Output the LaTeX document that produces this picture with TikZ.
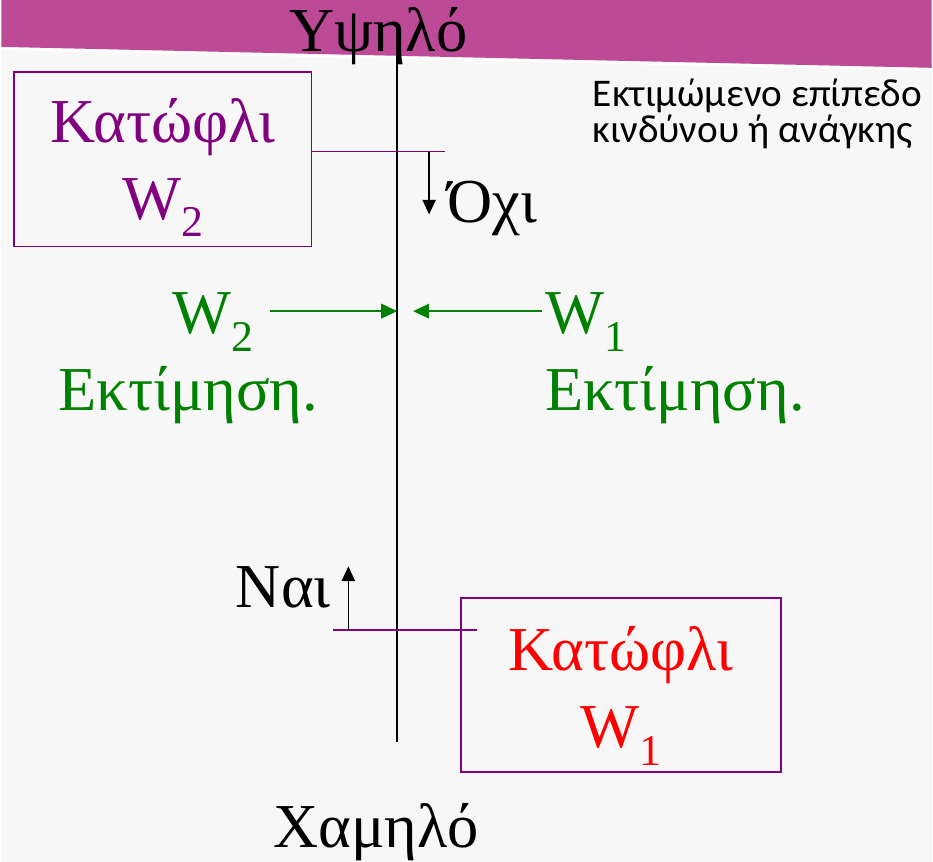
\documentclass[tikz,border=0pt]{standalone}
\usepackage{fontspec}
\setmainfont{Liberation Serif}
\newfontfamily\notefont{Carlito}
\usetikzlibrary{arrows.meta,positioning}
\definecolor{bggray}{RGB}{247,247,247}
\definecolor{bandpink}{RGB}{188,74,150}
\definecolor{threshpurple}{RGB}{128,0,128}
\definecolor{estgreen}{RGB}{0,128,0}
\definecolor{threshred}{RGB}{255,0,0}
\newcommand{\Wsub}[1]{W\raisebox{-13pt}{\fontsize{33}{33}\selectfont #1}}
\newcommand{\notesize}{\fontsize{29.5}{27.5}\selectfont\lineskiplimit=-20pt\relax}

\begin{document}
\begin{tikzpicture}[
 x=0.75pt, y=-0.75pt,
 big/.style={font=\fontsize{47}{58}\selectfont, inner sep=0pt},
 thresh/.style={rectangle, draw=threshpurple, line width=1.2pt, big, align=center, text height=95pt, text depth=4.25pt},
 axis/.style={line width=1.2pt},
 cut/.style={draw=threshpurple, line width=1.2pt},
 move/.style={-{Triangle[length=11pt,width=10pt]}, line width=1.2pt},
 estarrow/.style={-{Triangle[length=12pt,width=11pt]}, draw=estgreen, line width=1.2pt},
 note/.style={font=\notefont\notesize, align=left, inner sep=0pt}
]

% Background and header band
\fill[bggray] (0,0) rectangle (933,864);
\fill[bandpink] (0,0) -- (933,0) -- (933,68) -- (0,47) -- cycle;
\draw[white, line width=2pt, opacity=0.8] (0,49) -- (933,70);

% Axis
\node[big, anchor=base] (high) at (378,52) {Υψηλό};
\node[big, anchor=base] (low) at (376,850) {Χαμηλό};
\coordinate (axtop) at (397,56);
\coordinate (axbot) at (397,744);
\draw[axis] (axtop) -- (axbot);

% Thresholds
\node[thresh, text=threshpurple, minimum width=223.5pt, minimum height=131.25pt] (wtwo) at (162,159.5) {Κατώφλι\\\Wsub{2}};
\node[thresh, text=threshred, minimum width=240.75pt, minimum height=130.5pt, text height=96pt, text depth=1.5pt] (wone) at (621.5,687) {Κατώφλι\\\Wsub{1}};

% Cut lines
\coordinate (cuttwo) at (445,152);
\draw[cut] (wtwo.east |- cuttwo) -- (cuttwo);
\coordinate (cutone) at (333,632);
\coordinate (cutoneend) at (477,632);
\draw[cut] (cutone) -- (cutoneend);

% Answers
\node[big, anchor=base west] (no) at (447,223) {Όχι};
\node[big, anchor=base west] (yes) at (235,609) {Ναι};
\coordinate (nofrom) at (429,152);
\coordinate (yesfrom) at (348,632);
\draw[move] (nofrom) -- ++(0,63);
\draw[move] (yesfrom) -- ++(0,-64);

% Estimates
\node[big, anchor=base west, text=estgreen, align=left] (esttwo) at (57,412) {\hspace*{86pt}\Wsub{2}\\Εκτίμηση.};
\node[big, anchor=base west, text=estgreen, align=left] (estone) at (545,412) {\Wsub{1}\\Εκτίμηση.};
\coordinate (esttwoarr) at (269,312);
\coordinate (estonearr) at (542,312);
\draw[estarrow] (esttwoarr) -- (esttwoarr -| axtop);
\draw[estarrow] (estonearr) -- ([xshift=12pt]estonearr -| axtop);

% Note
\node[note, anchor=base west] (risk) at (593,143) {Εκτιμώμενο επίπεδο\\κινδύνου ή ανάγκης};

\end{tikzpicture}
\end{document}
